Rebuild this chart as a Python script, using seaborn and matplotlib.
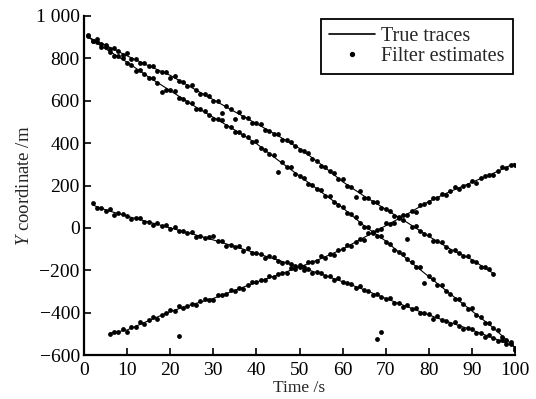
import numpy as np
import pandas as pd
import matplotlib
matplotlib.use("Agg")
import matplotlib.pyplot as plt
import seaborn as sns
from matplotlib.lines import Line2D

# ---- true traces (anchor readings, s / m) ----
true1_t = [1, 5, 10, 15, 20, 25, 30, 35, 40, 45, 50, 55, 60, 65, 70, 75, 80, 85, 90, 95]
true1_y = [900, 862, 812, 765, 720, 662, 605, 548, 492, 435, 375, 300, 218, 150, 88, 25, -40, -100, -150, -215]

true2_t = [1, 5, 10, 15, 20, 25, 30, 35, 40, 45, 50, 55, 60, 65, 70, 75, 80, 85, 90, 95, 100]
true2_y = [900, 845, 782, 712, 648, 582, 522, 462, 398, 320, 245, 170, 95, 10, -62, -148, -230, -312, -392, -472, -565]

true3_t = [2, 5, 10, 15, 20, 25, 30, 35, 40, 45, 50, 55, 60, 65, 70, 75, 80, 85, 90, 95, 100]
true3_y = [108, 85, 55, 28, 0, -28, -57, -88, -120, -152, -185, -218, -254, -292, -333, -372, -411, -447, -482, -520, -561]

true4_t = [6, 10, 15, 20, 25, 30, 35, 40, 45, 50, 55, 60, 65, 70, 75, 80, 85, 90, 95, 100]
true4_y = [-497, -482, -438, -395, -362, -333, -295, -256, -222, -185, -145, -100, -45, 10, 65, 125, 172, 215, 258, 305]

# ---- filter estimates (one per second) ----
est1_start = 1
est1_y = [904, 884, 890, 868, 864, 842, 849, 833, 817, 824,
          799, 796, 776, 780, 763, 766, 740, 738, 734, 709,
          716, 694, 687, 668, 673, 650, 631, 632, 624, 601,
          597, 541, 577, 559, 515, 546, 524, 519, 495, 494,
          491, 463, 459, 443, 443, 413, 415, 405, 386, 368,
          363, 354, 325, 317, 291, 289, 267, 258, 230, 229,
          198, 193, 145, 172, 142, 142, 122, 123, 95, 89,
          81, 54, 53, 37, -54, 6, 11, -17, -27, -35,
          -62, -60, -68, -90, -107, -104, -119, -134, -131, -155,
          -160, -184, -187, -195, -216]

est2_start = 1
est2_y = [908, 883, 875, 853, 856, 831, 811, 811, 802, 778,
          771, 742, 746, 726, 707, 708, 684, 643, 653, 650,
          645, 615, 609, 592, 590, 560, 562, 552, 533, 515,
          513, 507, 481, 476, 453, 454, 436, 431, 407, 409,
          376, 369, 349, 344, 265, 309, 287, 285, 255, 246,
          236, 206, 203, 184, 177, 149, 152, 122, 110, 100,
          68, 65, 52, 25, 3, 2, -18, -37, -39, -67,
          -76, -104, -112, -124, -149, -159, -187, -187, -262, -226,
          -242, -269, -270, -299, -310, -338, -337, -359, -381, -380,
          -412, -421, -448, -450, -474, -481, -516, -528, -541, -576]

est3_start = 2
est3_y = [118, 94, 94, 82, 87, 63, 71, 67, 54,
          43, 47, 48, 28, 30, 13, 22, 11, 13, -4,
          5, -17, -15, -24, -20, -42, -36, -48, -41, -37,
          -62, -63, -85, -79, -89, -87, -107, -95, -117, -120,
          -121, -143, -135, -138, -154, -166, -159, -171, -182, -176,
          -197, -195, -213, -209, -211, -226, -227, -246, -237, -257,
          -258, -265, -283, -275, -295, -298, -318, -310, -324, -338,
          -329, -353, -353, -372, -366, -382, -378, -402, -403, -406,
          -429, -417, -436, -438, -453, -443, -462, -477, -471, -475,
          -494, -494, -517, -506, -520, -533, -527, -547, -548, -569]

est4_start = 6
est4_y = [-503, -491, -491, -478, -490,
          -469, -467, -446, -452, -437, -423, -429, -409, -404, -388,
          -394, -370, -378, -369, -357, -366, -346, -337, -341, -340,
          -319, -317, -314, -294, -300, -284, -287, -270, -257, -257,
          -244, -248, -226, -232, -218, -211, -213, -191, -196, -183,
          -187, -162, -160, -158, -133, -140, -124, -126, -103, -102,
          -79, -85, -67, -51, -56, -26, -26, -10, -7, 21,
          20, 23, 47, 61, 61, 80, 77, 107, 113, 120,
          143, 142, 158, 155, 174, 191, 183, 199, 203, 223,
          214, 236, 247, 248, 251, 270, 286, 281, 298, 296]

# stray estimates far from any trace
stray_t = [22, 68, 69]
stray_y = [-509, -526, -490]

x_ticks = [0, 10, 20, 30, 40, 50, 60, 70, 80, 90, 100]
y_ticks = [-600, -400, -200, 0, 200, 400, 600, 800, 1000]
y_ticklabels = ["\u2212600", "\u2212400", "\u2212200", "0", "200", "400", "600", "800", "1 000"]

# ---- build frames ----
true_parts = []
for k, (tt, yy) in enumerate([(true1_t, true1_y), (true2_t, true2_y),
                              (true3_t, true3_y), (true4_t, true4_y)]):
    true_parts.append(pd.DataFrame({"t": tt, "y": yy, "trace": k}))
true_df = pd.concat(true_parts, ignore_index=True)

est_parts = []
for st, yy in [(est1_start, est1_y), (est2_start, est2_y),
               (est3_start, est3_y), (est4_start, est4_y)]:
    est_parts.append(pd.DataFrame({"t": np.arange(st, st + len(yy)), "y": yy}))
est_parts.append(pd.DataFrame({"t": stray_t, "y": stray_y}))
est_df = pd.concat(est_parts, ignore_index=True)

# ---- style ----
sns.set_style("ticks")
plt.rcParams["font.family"] = ["Liberation Serif", "DejaVu Serif"]
plt.rcParams["mathtext.fontset"] = "custom"
plt.rcParams["mathtext.rm"] = "Liberation Serif"
plt.rcParams["mathtext.it"] = "Liberation Serif:italic"
plt.rcParams["axes.unicode_minus"] = True

fig = plt.figure(figsize=(5.36, 3.99), dpi=100)
ax = fig.add_axes([84 / 536, 1 - 355 / 399, (515 - 84) / 536, (355 - 16) / 399])

sns.lineplot(data=true_df, x="t", y="y", units="trace", estimator=None,
             color="black", linewidth=0.8, sort=False, ax=ax, legend=False)
sns.scatterplot(data=est_df, x="t", y="y", color="black", marker="o", s=12,
                linewidth=0, ax=ax, legend=False, zorder=3)

ax.set_xlim(0, 100)
ax.set_ylim(-600, 1000)
ax.set_xticks(x_ticks)
ax.set_xticklabels([str(v) for v in x_ticks])
ax.set_yticks(y_ticks)
ax.set_yticklabels(y_ticklabels)
ax.tick_params(direction="in", length=5, width=1.2, labelsize=14, colors="black")
ax.tick_params(axis="x", pad=5)
ax.tick_params(axis="y", pad=3)
for side in ["top", "right"]:
    ax.spines[side].set_visible(False)
for side in ["left", "bottom"]:
    ax.spines[side].set_linewidth(1.6)
    ax.spines[side].set_color("black")

ax.set_xlabel("Time /s", fontsize=12.5, labelpad=1)
ax.set_ylabel(r"$\mathit{Y}$ coordinate /m", fontsize=13.5, labelpad=2)

handles = [Line2D([0], [0], color="black", linewidth=1.2),
           Line2D([0], [0], color="black", marker="o", markersize=2.8, linestyle="none")]
leg = ax.legend(handles, ["True traces", "Filter estimates"], loc="upper right",
                bbox_to_anchor=(0.9954, 0.991), fontsize=14.5, frameon=True, fancybox=False,
                edgecolor="black", framealpha=1, borderpad=0.4, handlelength=2.3,
                handletextpad=0.3, labelspacing=0.05, borderaxespad=0)
leg.get_frame().set_linewidth(1.3)

fig.savefig("out.png", dpi=100)
